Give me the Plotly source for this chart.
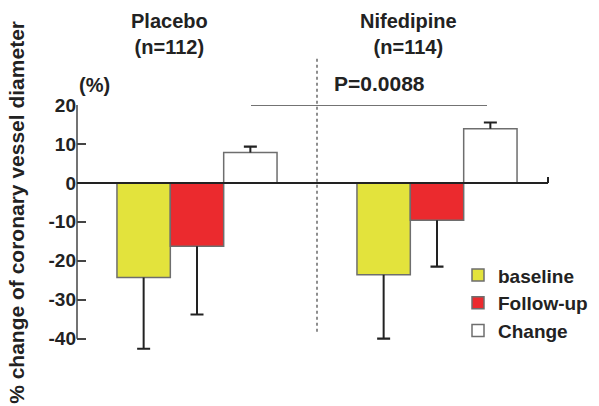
import plotly.graph_objects as go

groups = ["Placebo", "Nifedipine"]
group_titles = ["Placebo<br>(n=112)", "Nifedipine<br>(n=114)"]
series_names = ["baseline", "Follow-up", "Change"]
baseline = [-24.3, -23.6]
baseline_err = [18.3, 16.4]
followup = [-16.3, -9.6]
followup_err = [17.5, 11.9]
change = [7.8, 13.9]
change_err = [1.5, 1.6]
y_ticks = [-40, -30, -20, -10, 0, 10, 20]
y_ticklabels = ["-40", "-30", "-20", "-10", "0", "10", "20"]
p_text = "P=0.0088"

colors = ["#E3E33C", "#EB2A2E", "#FFFFFF"]
FONT = "Liberation Sans, Arial, Helvetica, sans-serif"
TXT = "#222222"

Y0, Y1 = -46, 20          # axis range (axis line drawn only from -40 to 20)
PX0 = 183                 # pixel row of y=0
PPU = 3.9                 # pixels per unit
H = 406
plot_top = PX0 - Y1 * PPU
plot_bot = PX0 - Y0 * PPU


def py2paper(py):
    return (plot_bot - py) / (plot_bot - plot_top)


def px2paper(px):
    return (px - 77) / 471


fig = go.Figure()
vals = [baseline, followup, change]
errs = [baseline_err, followup_err, change_err]
for name, v, e, c in zip(series_names, vals, errs, colors):
    up = [ei if vi > 0 else 0 for vi, ei in zip(v, e)]
    dn = [ei if vi < 0 else 0 for vi, ei in zip(v, e)]
    fig.add_trace(go.Bar(
        x=groups, y=v, name=name, offsetgroup=name,
        marker=dict(color=c, line=dict(color="#6E6E6E", width=1.5)),
        error_y=dict(type="data", symmetric=False, array=up, arrayminus=dn,
                     thickness=2, width=0, color=TXT),
    ))
# caps at the tips of the error bars
for name, v, e in zip(series_names, vals, errs):
    tips = [vi + ei if vi > 0 else vi - ei for vi, ei in zip(v, e)]
    fig.add_trace(go.Bar(
        x=groups, y=tips, offsetgroup=name, showlegend=False,
        marker=dict(color="rgba(255,255,255,0)", line=dict(width=0)),
        error_y=dict(type="data", array=[0.02, 0.02], thickness=2, width=6.5, color=TXT),
        hoverinfo="skip",
    ))

shapes = [
    dict(type="line", xref="paper", yref="y", x0=0, x1=0, y0=-40, y1=20,
         line=dict(color="#444444", width=1.5)),
    dict(type="line", xref="paper", yref="y", x0=0, x1=1, y0=0, y1=0,
         line=dict(color=TXT, width=2)),
    dict(type="line", xref="paper", yref="y", x0=1, x1=1, y0=0, y1=1.5,
         line=dict(color=TXT, width=2)),
    dict(type="line", xref="paper", yref="paper", x0=px2paper(317), x1=px2paper(317),
         y0=py2paper(332), y1=py2paper(57),
         line=dict(color="#444444", width=1.2, dash="dot")),
    dict(type="line", xref="paper", yref="y", x0=px2paper(251), x1=px2paper(487), y0=20, y1=20,
         line=dict(color="#444444", width=1.5)),
]

f = lambda s: dict(family=FONT, size=s, color=TXT, weight="bold")
annotations = [
    dict(text=group_titles[0], xref="paper", yref="paper", x=px2paper(169), y=py2paper(34),
         showarrow=False, font=f(20), xanchor="center", yanchor="middle"),
    dict(text=group_titles[1], xref="paper", yref="paper", x=px2paper(408), y=py2paper(34),
         showarrow=False, font=f(20), xanchor="center", yanchor="middle"),
    dict(text=p_text, xref="paper", yref="paper", x=px2paper(379), y=py2paper(83),
         showarrow=False, font=f(21), xanchor="center", yanchor="middle"),
    dict(text="(%)", xref="paper", yref="paper", x=px2paper(94), y=py2paper(85),
         showarrow=False, font=f(20), xanchor="center", yanchor="middle"),
    dict(text="% change of coronary vessel diameter", xref="paper", yref="paper",
         x=px2paper(17), y=py2paper(213), textangle=-90,
         showarrow=False, font=f(21), xanchor="center", yanchor="middle"),
]

fig.update_layout(
    width=599, height=H,
    margin=dict(l=77, r=51, t=plot_top, b=H - plot_bot, autoexpand=False),
    paper_bgcolor="white", plot_bgcolor="white",
    barmode="group", bargap=0.333, bargroupgap=0,
    showlegend=True,
    legend=dict(x=px2paper(458), y=py2paper(256.5), xanchor="left", yanchor="top",
                font=f(19), bgcolor="rgba(0,0,0,0)", tracegroupgap=0),
    shapes=shapes, annotations=annotations,
    hovermode=False,
    xaxis=dict(range=[-0.5, 1.4625], showticklabels=False, showgrid=False,
               showline=False, zeroline=False, ticks="", automargin=False),
    yaxis=dict(range=[Y0, Y1], tickvals=y_ticks, ticktext=y_ticklabels,
               showgrid=False, zeroline=False, automargin=False, showline=False,
               ticks="inside", ticklen=9, tickwidth=1.5, tickcolor="#444444",
               tickfont=f(19)),
)

fig.write_html("out.html", config={"displayModeBar": False},
               post_script="document.body.style.margin='0';")
